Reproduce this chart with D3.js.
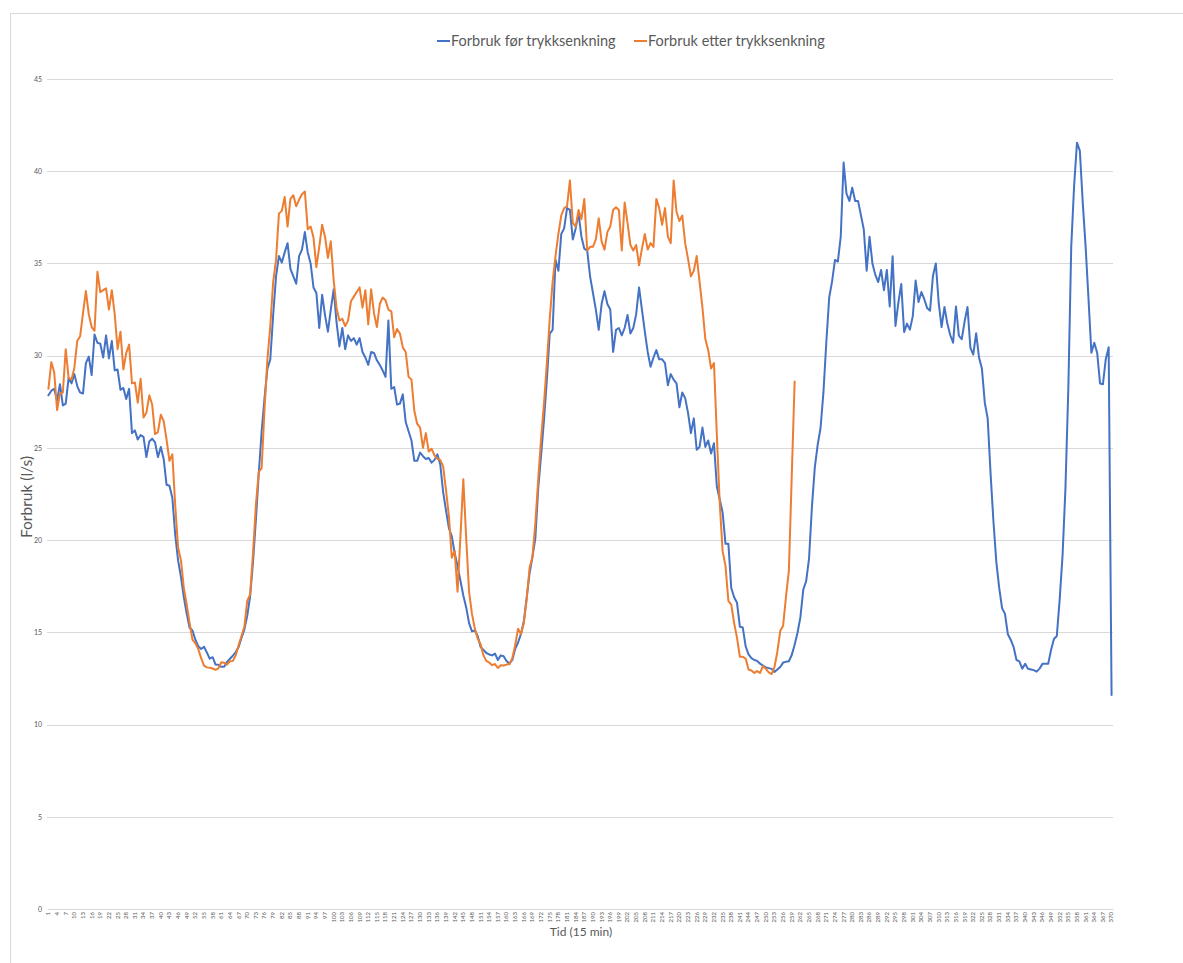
<!DOCTYPE html>
<html>
<head>
<meta charset="utf-8">
<script src="https://cdn.jsdelivr.net/npm/d3@7"></script>
<style>
  body { margin: 0; background: #ffffff; }
  svg { display: block; font-family: Lato, "Liberation Sans", sans-serif; }
</style>
</head>
<body>
<svg id="chart" width="1183" height="963"></svg>
<script>
// Category index: one step per 15-minute interval
const categories = d3.range(1, 371);

// Water use before pressure reduction (l/s)
const forbrukFor = [
  27.85, 28.1, 28.2, 27.55, 28.45, 27.3, 27.4, 28.8, 28.5, 29.0,
  28.35, 28.0, 27.95, 29.6, 29.95, 28.95, 31.15, 30.7, 30.65, 29.9,
  31.1, 29.85, 30.8, 29.2, 29.25, 28.15, 28.25, 27.65, 28.2, 25.8,
  25.95, 25.45, 25.7, 25.6, 24.5, 25.35, 25.5, 25.3, 24.5, 25.05,
  24.4, 23.0, 22.95, 22.3, 20.3, 18.9, 18.0, 16.9, 16.0, 15.25,
  15.1, 14.6, 14.25, 14.1, 14.22, 13.9, 13.57, 13.65, 13.25, 13.24,
  13.13, 13.13, 13.4, 13.57, 13.73, 13.93, 14.2, 14.7, 15.15, 15.9,
  16.95, 18.8, 21.1, 23.6, 25.9, 27.7, 29.3, 29.8, 32.2, 34.3,
  35.4, 35.05, 35.6, 36.1, 34.7, 34.3, 33.9, 35.4, 35.75, 36.7,
  35.6, 35.0, 33.7, 33.4, 31.5, 33.3, 32.2, 31.3, 32.5, 33.6,
  31.8, 30.5, 31.5, 30.35, 31.1, 30.8, 30.95, 30.6, 30.95, 30.2,
  29.9, 29.5, 30.2, 30.15, 29.75, 29.5, 29.2, 28.85, 31.9, 28.2,
  28.3, 27.35, 27.4, 27.9, 26.4, 25.9, 25.4, 24.3, 24.3, 24.75,
  24.55, 24.4, 24.45, 24.2, 24.35, 24.65, 24.1, 22.6, 21.6, 20.65,
  20.2, 19.3, 18.6, 17.8, 17.0, 16.35, 15.5, 15.05, 15.1, 14.8,
  14.2, 14.05, 13.88, 13.8, 13.75, 13.85, 13.5, 13.75, 13.7, 13.45,
  13.3, 13.5, 14.1, 14.45, 14.9, 15.6, 16.9, 18.2, 19.1, 20.1,
  22.8, 24.6, 26.5, 28.7, 31.2, 31.4, 35.2, 34.6, 36.6, 36.9,
  38.0, 37.9, 36.3, 36.9, 37.7, 36.45, 35.8, 35.7, 34.3, 33.4,
  32.5, 31.4, 32.8, 33.5, 32.8, 32.5, 30.2, 31.4, 31.5, 31.1,
  31.5, 32.2, 31.2, 31.5, 32.25, 33.7, 32.5, 31.3, 30.2, 29.4,
  29.9, 30.3, 29.8, 29.8, 29.6, 28.4, 29.0, 28.7, 28.5, 27.2,
  28.0, 27.7, 26.9, 25.8, 26.6, 24.9, 25.05, 26.1, 25.05, 25.4,
  24.7, 25.25, 22.9, 22.2, 21.5, 19.8, 19.8, 17.4, 16.9, 16.6,
  15.3, 15.26, 14.24, 13.8, 13.6, 13.5, 13.45, 13.3, 13.2, 13.1,
  13.06, 13.02, 12.85, 12.98, 13.12, 13.36, 13.4, 13.43, 13.77, 14.33,
  14.98, 15.82, 17.32, 17.78, 19.0, 21.8, 23.94, 25.16, 26.09, 28.02,
  30.74, 33.16, 34.03, 35.19, 35.1, 36.45, 40.47, 38.78, 38.39, 39.11,
  38.39, 38.39, 37.62, 36.84, 34.61, 36.45, 35.0, 34.38, 33.99, 34.65,
  33.55, 34.65, 32.67, 35.39, 31.61, 32.87, 33.88, 31.28, 31.74, 31.41,
  32.13, 34.07, 32.91, 33.45, 33.06, 32.58, 32.44, 34.32, 35.0, 32.87,
  31.55, 32.64, 31.74, 31.12, 30.7, 32.67, 31.09, 30.89, 31.86, 32.64,
  30.42, 30.06, 31.22, 29.9, 29.3, 27.45, 26.6, 23.63, 21.02, 18.82,
  17.41, 16.31, 16.0, 14.9, 14.6, 14.2, 13.5, 13.43, 13.03, 13.29,
  13.03, 12.99, 12.95, 12.87, 13.03, 13.29, 13.29, 13.29, 14.04, 14.64,
  14.8, 16.8, 19.2, 22.83, 28.25, 35.88, 39.2, 41.55, 41.1, 38.3,
  35.9, 33.07, 30.16, 30.7, 30.16, 28.49, 28.45, 29.82, 30.46, 11.6
];

// Water use after pressure reduction (l/s)
const forbrukEtter = [
  28.2, 29.65, 29.1, 27.05, 27.95, 28.0, 30.35, 28.8, 28.7, 29.35,
  30.8, 31.05, 32.3, 33.5, 32.25, 31.55, 31.35, 34.55, 33.45, 33.55,
  33.65, 32.5, 33.55, 32.25, 30.35, 31.3, 29.25, 30.15, 30.6, 28.5,
  28.55, 27.45, 28.75, 26.65, 26.9, 27.85, 27.35, 25.75, 25.85, 26.8,
  26.45, 25.45, 24.3, 24.65, 21.9, 19.6, 18.9, 17.4, 16.5, 15.5,
  14.6, 14.4, 14.1, 13.6, 13.2, 13.1, 13.08, 13.04, 12.97, 13.05,
  13.38, 13.35, 13.25, 13.43, 13.45, 13.75, 14.3, 14.8, 15.3, 16.7,
  17.05, 19.3, 21.9, 23.7, 23.9, 27.1, 29.8, 31.6, 34.0, 35.2,
  37.7, 37.85, 38.6, 37.0, 38.5, 38.7, 38.1, 38.45, 38.75, 38.9,
  36.85, 37.0, 36.4, 34.8, 35.9, 37.1, 36.45, 35.3, 36.2, 34.1,
  32.6, 31.9, 32.0, 31.6, 31.9, 32.95, 33.2, 33.45, 33.7, 32.6,
  33.55, 31.7, 33.6, 32.3, 31.55, 32.8, 33.15, 33.0, 32.5, 32.4,
  31.0, 31.45, 31.2, 30.45, 30.2, 28.85, 28.7, 27.0, 26.3, 26.1,
  25.0, 25.8, 24.8, 24.95, 24.6, 24.4, 24.35, 24.0, 22.7, 21.3,
  19.05, 19.4, 17.2, 20.2, 23.3, 20.1, 17.2, 16.0, 15.2, 14.65,
  14.35, 13.75, 13.45, 13.36, 13.22, 13.28, 13.07, 13.22, 13.2, 13.25,
  13.27, 13.6, 14.3, 15.2, 14.9, 15.5, 16.8, 18.5, 19.1, 20.9,
  23.3, 25.5, 27.4, 29.6, 32.0, 34.0, 35.4, 36.6, 37.6, 38.0,
  38.1, 39.5, 37.2, 37.0, 37.9, 37.4, 38.5, 35.7, 35.9, 35.9,
  36.3, 37.45, 36.2, 35.75, 36.7, 37.0, 37.9, 38.05, 37.9, 35.7,
  38.3, 37.2, 36.0, 35.7, 36.0, 34.9, 35.8, 36.6, 35.75, 36.1,
  35.9, 38.5, 38.0, 37.1, 38.0, 36.45, 36.1, 39.5, 37.8, 37.3,
  37.6, 36.1, 35.25, 34.3, 34.6, 35.4, 34.0, 32.6, 30.9, 30.3,
  29.3, 29.6, 25.7, 22.0, 19.4, 18.6, 16.7, 16.5, 15.5, 14.7,
  13.67, 13.67, 13.58, 12.98, 12.93, 12.8, 12.9, 12.8, 13.17, 13.02,
  12.83, 12.74, 13.12, 13.95, 15.07, 15.36, 16.94, 18.34, 23.5, 28.6
];

const yTicks = [0, 5, 10, 15, 20, 25, 30, 35, 40, 45];
const xTickLabels = categories.filter((d, i) => i % 3 === 0);
const seriesNames = ["Forbruk før trykksenkning", "Forbruk etter trykksenkning"];
const seriesColors = ["#4472C4", "#ED7D31"];

const svg = d3.select("#chart");
const plot = { left: 47, right: 1113, top: 79, bottom: 909 };

const x = d3.scaleBand().domain(categories).range([plot.left, plot.right]).padding(0);
const y = d3.scaleLinear().domain([0, 45]).range([plot.bottom, plot.top]);
const cx = d => x(d) + x.bandwidth() / 2;

// Chart area frame
svg.append("rect")
  .attr("x", 10.5).attr("y", 13.5)
  .attr("width", 1300).attr("height", 1100)
  .attr("fill", "#ffffff").attr("stroke", "#d9d9d9").attr("stroke-width", 1);

// Horizontal gridlines
svg.append("g")
  .selectAll("line")
  .data(yTicks.filter(d => d > 0))
  .join("line")
  .attr("x1", plot.left).attr("x2", plot.right)
  .attr("y1", d => Math.round(y(d)) + 0.5).attr("y2", d => Math.round(y(d)) + 0.5)
  .attr("stroke", "#d9d9d9").attr("stroke-width", 1);

// Y axis labels
const yAxis = d3.axisLeft(y).tickValues(yTicks).tickSize(0).tickPadding(5);
const gy = svg.append("g").attr("transform", `translate(${plot.left},0)`).call(yAxis);
gy.select(".domain").remove();
gy.selectAll("text").attr("fill", "#595959").attr("font-size", 7)
  .attr("font-family", "Lato, 'Liberation Sans', sans-serif");

// X axis with rotated category labels
const xAxis = d3.axisBottom(x).tickValues(xTickLabels).tickSize(0).tickSizeOuter(0);
const gx = svg.append("g").attr("transform", `translate(0,${plot.bottom})`).call(xAxis);
gx.select(".domain").attr("stroke", "#d9d9d9").attr("stroke-width", 1);
gx.selectAll("text")
  .attr("transform", "rotate(-90)")
  .attr("text-anchor", "end")
  .attr("x", -3).attr("y", 0).attr("dy", "0.32em")
  .attr("fill", "#595959").attr("font-size", 6)
  .attr("font-family", "Lato, 'Liberation Sans', sans-serif");

// Series lines
const line = d3.line()
  .x((d, i) => cx(categories[i]))
  .y(d => y(d));

[forbrukFor, forbrukEtter].forEach((values, k) => {
  svg.append("path")
    .datum(values)
    .attr("fill", "none")
    .attr("stroke", seriesColors[k])
    .attr("stroke-width", 2)
    .attr("stroke-linejoin", "round")
    .attr("stroke-linecap", "round")
    .attr("d", line);
});

// Axis titles
svg.append("text")
  .attr("transform", `translate(32,${(plot.top + plot.bottom) / 2 + 3}) rotate(-90)`)
  .attr("text-anchor", "middle")
  .attr("fill", "#595959").attr("font-size", 15.5)
  .text("Forbruk (l/s)");

svg.append("text")
  .attr("x", 581).attr("y", 936)
  .attr("text-anchor", "middle")
  .attr("fill", "#595959").attr("font-size", 12)
  .text("Tid (15 min)");

// Legend
const legendX = [437, 634];
const legend = svg.append("g");
seriesNames.forEach((name, k) => {
  const g = legend.append("g").attr("transform", `translate(${legendX[k]},41)`);
  g.append("line").attr("x1", 0).attr("x2", 13).attr("y1", 0).attr("y2", 0)
    .attr("stroke", seriesColors[k]).attr("stroke-width", 2);
  g.append("text").attr("x", 14).attr("y", 0).attr("dy", "0.35em")
    .attr("fill", "#595959").attr("font-size", 14.5)
    .text(name);
});
</script>
</body>
</html>
